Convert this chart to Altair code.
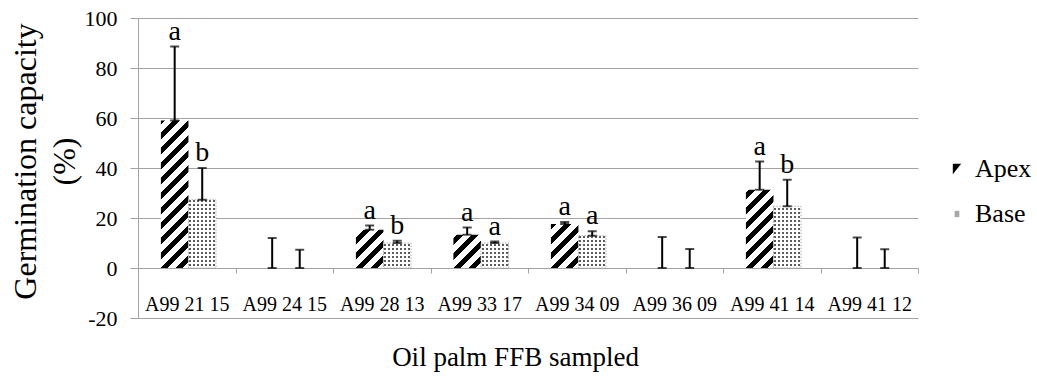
import altair as alt
import pandas as pd

# Germination capacity of seeds taken from the apex and the base of each bunch
categories = ["A99 21 15", "A99 24 15", "A99 28 13", "A99 33 17",
              "A99 34 09", "A99 36 09", "A99 41 14", "A99 41 12"]
apex_mean = [59.0, 0.0, 15.3, 13.3, 17.6, 0.0, 31.3, 0.0]
apex_err = [29.6, 12.0, 1.7, 2.9, 0.8, 12.4, 11.3, 12.2]
base_mean = [27.3, 0.0, 10.0, 10.0, 12.9, 0.0, 24.7, 0.0]
base_err = [12.7, 7.3, 0.9, 0.6, 1.8, 7.6, 10.6, 7.5]
apex_letter = ["a", "", "a", "a", "a", "", "a", ""]
base_letter = ["b", "", "b", "a", "a", "", "b", ""]
series = ["Apex", "Base"]

rows = []
for i, c in enumerate(categories):
    rows.append(dict(cat=c, series="Apex", value=apex_mean[i], err=apex_err[i],
                     top=apex_mean[i] + apex_err[i], letter=apex_letter[i]))
    rows.append(dict(cat=c, series="Base", value=base_mean[i], err=base_err[i],
                     top=base_mean[i] + base_err[i], letter=base_letter[i]))
df = pd.DataFrame(rows)

SERIF = "Liberation Serif, Times New Roman, serif"
W, H = 780, 300
Y_MIN, Y_MAX = -20, 100
PX_PER_UNIT = H / (Y_MAX - Y_MIN)
OUTER = 0.77
BAR_W = (W / len(categories)) / (2 + 2 * OUTER)
GRID = "#a3a3a3"


def band_stops(length, period, frac, on, off, anchor):
    """Hard-edged repeating stops along a gradient of the given pixel length."""
    def colour(s):
        phase = ((s - anchor) % period) / period
        return on if phase < frac else off

    cuts = []
    k = -int(anchor // period) - 2
    while True:
        b0 = anchor + k * period
        if b0 > length:
            break
        for b in (b0, b0 + frac * period):
            if 0 < b < length:
                cuts.append(b)
        k += 1
    cuts.sort()
    stops = [alt.GradientStop(offset=0, color=colour(1e-6))]
    for b in cuts:
        stops.append(alt.GradientStop(offset=b / length, color=colour(b - 1e-6)))
        stops.append(alt.GradientStop(offset=b / length, color=colour(b + 1e-6)))
    stops.append(alt.GradientStop(offset=1, color=colour(length - 1e-6)))
    return stops


def diagonal_hatch(w, h, period=15.0, frac=0.46):
    """'/' stripes at 45 degrees, expressed in the bar's bounding box."""
    length = w + h
    a = length / (w * w + h * h)
    return alt.LinearGradient(
        gradient="linear", x1=0, y1=0, x2=w * a, y2=h * a,
        stops=band_stops(length, period, frac, "black", "white", h))


def dot_rows(h, period=4.0):
    return alt.LinearGradient(
        gradient="linear", x1=0, y1=0, x2=0, y2=1,
        stops=band_stops(h, period, 0.45, "#5c5c5c", "white", h))


def dot_cols(w, period=4.0):
    return alt.LinearGradient(
        gradient="linear", x1=0, y1=0, x2=1, y2=0,
        stops=band_stops(w, period, 0.45, "rgba(255,255,255,0)", "white", 1.0))


x_enc = alt.X(
    "cat:N", sort=categories,
    scale=alt.Scale(paddingInner=0, paddingOuter=0),
    axis=alt.Axis(
        title="Oil palm FFB sampled", offset=-(0 - Y_MIN) * PX_PER_UNIT,
        tickBand="extent", labelAngle=0, grid=False,
        domainColor=GRID, tickColor=GRID, tickSize=5,
        labelFont=SERIF, labelFontSize=20, labelColor="black",
        labelBaseline="alphabetic", labelPadding=37.5,
        titleFont=SERIF, titleFontSize=27, titleFontWeight="normal",
        titleColor="black", titleBaseline="alphabetic",
        titleX=377, titleY=97))
xo_enc = alt.XOffset(
    "series:N",
    scale=alt.Scale(domain=series, paddingInner=0, paddingOuter=OUTER, align=0.54))
y_scale = alt.Scale(domain=[Y_MIN, Y_MAX], nice=False, zero=False)
y_axis = alt.Axis(
    values=list(range(Y_MIN, Y_MAX + 1, 20)), grid=True, gridColor=GRID,
    domainColor=GRID, tickColor=GRID, tickSize=8,
    labelExpr="'' + datum.value",
    labelFont=SERIF, labelFontSize=22, labelColor="black", labelPadding=13,
    title=["Germination capacity", "(%)"], titleFont=SERIF, titleFontSize=32,
    titleFontWeight="normal", titleColor="black", titleLineHeight=39,
    titleBaseline="middle", titleX=-113, titleY=143)


def Y(field):
    return alt.Y(field, type="quantitative", scale=y_scale, axis=y_axis)


base = alt.Chart(df).encode(x=x_enc, xOffset=xo_enc)

layers = []
for i, c in enumerate(categories):
    if apex_mean[i] > 0:
        h = apex_mean[i] * PX_PER_UNIT
        layers.append(
            base.transform_filter((alt.datum.cat == c) & (alt.datum.series == "Apex"))
            .mark_bar(fill=diagonal_hatch(BAR_W, h), strokeWidth=0)
            .encode(y=Y("value"), y2=alt.datum(0)))
    if base_mean[i] > 0:
        h = base_mean[i] * PX_PER_UNIT
        sel = base.transform_filter((alt.datum.cat == c) & (alt.datum.series == "Base"))
        layers.append(
            sel.mark_bar(fill=dot_rows(h), strokeWidth=0)
            .encode(y=Y("value"), y2=alt.datum(0)))
        layers.append(
            sel.mark_bar(fill=dot_cols(BAR_W), stroke="#9a9a9a", strokeWidth=0.8,
                         strokeDash=[1.5, 1.5])
            .encode(y=Y("value"), y2=alt.datum(0)))

err_rule = base.mark_rule(color="black", strokeWidth=2).encode(
    y=Y("value"), y2="top:Q")
cap_low = base.mark_tick(color="black", size=9, thickness=2).encode(y=Y("value"))
cap_high = base.mark_tick(color="black", size=9, thickness=2).encode(y=Y("top"))
letters = base.transform_filter(alt.datum.letter != "").mark_text(
    font=SERIF, fontSize=28, baseline="bottom", dy=-1, color="black"
).encode(y=Y("top"), text="letter:N")

legend_layer = alt.Chart(df).transform_filter("false").mark_point(
    filled=True, opacity=1, strokeWidth=0
).encode(
    color=alt.Color("series:N", scale=alt.Scale(domain=series, range=["black", "#a8a8a8"]),
                    legend=alt.Legend(
                        title=None, orient="none", legendX=806, legendY=138,
                        labelFont=SERIF, labelFontSize=26, labelColor="black",
                        labelOffset=5, rowPadding=19, symbolSize=110,
                        symbolStrokeWidth=0, symbolOpacity=1)),
    shape=alt.Shape("series:N", scale=alt.Scale(
        domain=series,
        range=["M -0.8 -1 L 0.8 -1 L -0.8 1 Z", "M -0.45 -0.6 L 0.45 -0.6 L 0.45 0.6 L -0.45 0.6 Z"])),
)

chart = alt.layer(*layers, err_rule, cap_low, cap_high, letters, legend_layer).properties(
    width=W, height=H,
    padding={"left": 138, "top": 18, "right": 119, "bottom": 58},
    autosize=alt.AutoSizeParams(type="none"),
    background="white",
).configure(font=SERIF).configure_view(stroke=None).configure_legend(
    labelFont=SERIF).configure_axis(labelFont=SERIF, titleFont=SERIF)

chart.save("out.html", embed_options={"renderer": "svg", "actions": False})
